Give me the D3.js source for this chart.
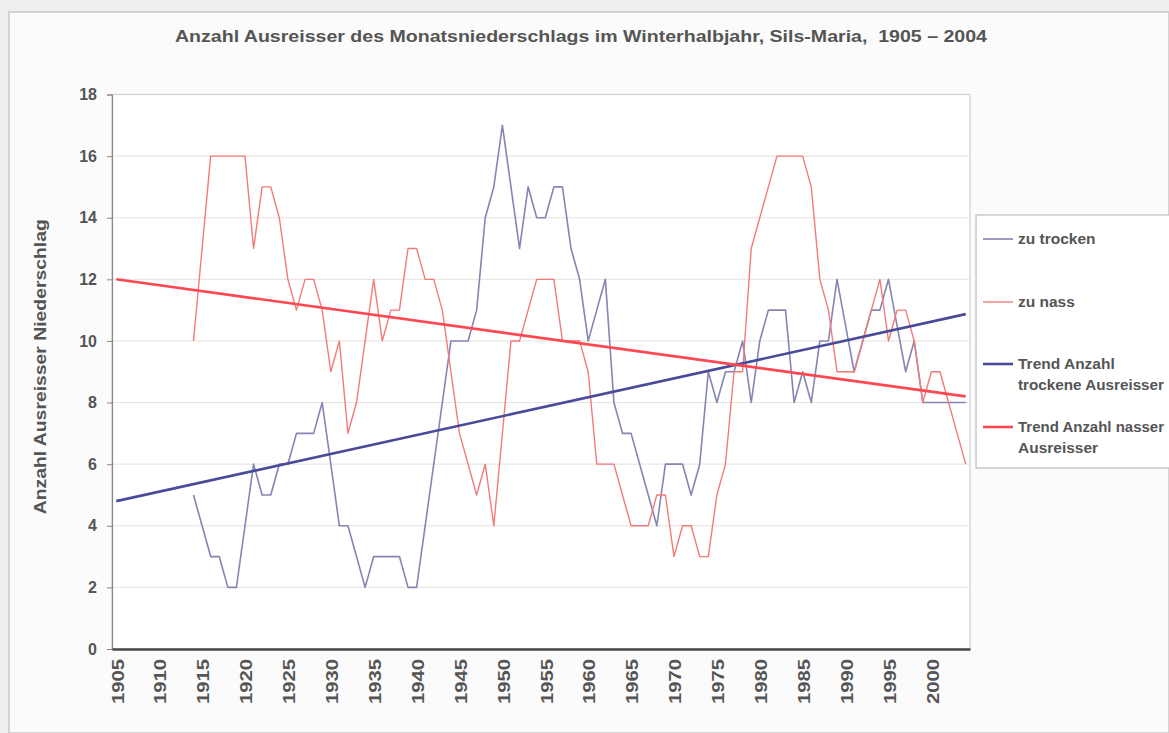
<!DOCTYPE html>
<html>
<head>
<meta charset="utf-8">
<script src="https://cdn.jsdelivr.net/npm/d3@7/dist/d3.min.js"></script>
<style>
  html, body { margin: 0; padding: 0; background: #efefef; overflow: hidden; }
  svg { display: block; }
  text { font-family: "Liberation Sans", Arial, sans-serif; fill: #555; }
</style>
</head>
<body>
<svg id="chart" width="1169" height="733"></svg>
<script>
// ---- data ----
const years = d3.range(1905, 2005);
const firstDataYear = 1914;
const zuTrocken = [
  5, 4, 3, 3, 2, 2, 4, 6, 5, 5,          // 1914-1923
  6, 6, 7, 7, 7, 8, 6, 4, 4, 3,          // 1924-1933
  2, 3, 3, 3, 3, 2, 2, 4, 6, 8,          // 1934-1943
  10, 10, 10, 11, 14, 15, 17, 15, 13, 15,// 1944-1953
  14, 14, 15, 15, 13, 12, 10, 11, 12, 8, // 1954-1963
  7, 7, 6, 5, 4, 6, 6, 6, 5, 6,          // 1964-1973
  9, 8, 9, 9, 10, 8, 10, 11, 11, 11,     // 1974-1983
  8, 9, 8, 10, 10, 12, 10.5, 9, 10, 11,  // 1984-1993
  11, 12, 10.5, 9, 10, 8, 8, 8, 8, 8,    // 1994-2003
  8                                      // 2004
];
const zuNass = [
  10, 13, 16, 16, 16, 16, 16, 13, 15, 15, // 1914-1923
  14, 12, 11, 12, 12, 11, 9, 10, 7, 8,    // 1924-1933
  10, 12, 10, 11, 11, 13, 13, 12, 12, 11, // 1934-1943
  9, 7, 6, 5, 6, 4, 7, 10, 10, 11,        // 1944-1953
  12, 12, 12, 10, 10, 10, 9, 6, 6, 6,     // 1954-1963
  5, 4, 4, 4, 5, 5, 3, 4, 4, 3,           // 1964-1973
  3, 5, 6, 9, 9, 13, 14, 15, 16, 16,      // 1974-1983
  16, 16, 15, 12, 11, 9, 9, 9, 10, 11,    // 1984-1993
  12, 10, 11, 11, 10, 8, 9, 9, 8, 7,      // 1994-2003
  6                                       // 2004
];
const trendYears = [1905, 2004];
const trendTrocken = [4.8, 10.87];
const trendNass = [12.0, 8.2];
const yTicks = [0, 2, 4, 6, 8, 10, 12, 14, 16, 18];
const xTickYears = d3.range(1905, 2005, 5);
const seriesNames = ["zu trocken", "zu nass", "Trend Anzahl|trockene Ausreisser", "Trend Anzahl nasser|Ausreisser"];

// ---- build ----
const svg = d3.select("#chart");
const W = 1169, H = 733;
const plot = { left: 112, right: 970, top: 94.5, bottom: 649 };

const colDry = "#8585b5", colWet = "#f47a7a", colTrendDry = "#4a4a9a", colTrendWet = "#ff4752";

// chart area background
svg.append("rect").attr("x", 9).attr("y", 12).attr("width", W - 9).attr("height", H - 12)
  .attr("fill", "#fbfbfb").attr("stroke", "#c9c9c9").attr("stroke-width", 1.5);

const x = d3.scaleBand().domain(years).range([plot.left, plot.right]).padding(0);
const y = d3.scaleLinear().domain([0, 18]).range([plot.bottom, plot.top]);
const cx = yr => x(yr) + x.bandwidth() / 2;

// plot area
svg.append("rect").attr("x", plot.left).attr("y", plot.top)
  .attr("width", plot.right - plot.left).attr("height", plot.bottom - plot.top)
  .attr("fill", "#ffffff").attr("stroke", "#cfcfcf").attr("stroke-width", 1.2);

// gridlines
svg.append("g").selectAll("line").data(yTicks.filter(d => d > 0 && d < 18)).join("line")
  .attr("x1", plot.left).attr("x2", plot.right)
  .attr("y1", d => y(d)).attr("y2", d => y(d))
  .attr("stroke", "#e6e2dc").attr("stroke-width", 1);

// y axis
const yAxis = d3.axisLeft(y).tickValues(yTicks).tickSize(5).tickPadding(10).tickFormat(d3.format("d"));
const gy = svg.append("g").attr("transform", `translate(${plot.left},0)`).call(yAxis);
gy.select(".domain").attr("stroke", "#888").attr("stroke-width", 1.2);
gy.selectAll(".tick line").attr("stroke", "#888");
gy.selectAll(".tick text").attr("font-size", 16).attr("font-weight", "bold").attr("fill", "#555")
  .attr("font-family", "Liberation Sans, Arial, sans-serif");

// x axis
const xAxis = d3.axisBottom(x).tickValues(xTickYears).tickSize(0).tickPadding(0);
const gx = svg.append("g").attr("transform", `translate(0,${plot.bottom})`).call(xAxis);
gx.select(".domain").attr("stroke", "#4a4a4a").attr("stroke-width", 2.5);
gx.selectAll(".tick text")
  .attr("transform", "rotate(-90)")
  .attr("x", -10).attr("y", 0).attr("dy", "0.36em")
  .attr("text-anchor", "end")
  .attr("font-size", 16).attr("font-weight", "bold").attr("fill", "#555")
  .attr("textLength", 45).attr("lengthAdjust", "spacingAndGlyphs")
  .attr("font-family", "Liberation Sans, Arial, sans-serif");
gx.selectAll(".tick").attr("transform", d => `translate(${cx(d) + 1.5},0)`);

// data lines
const dataYears = years.filter(yr => yr >= firstDataYear);
const line = d3.line().x(d => cx(d[0])).y(d => y(d[1]));
svg.append("path").datum(dataYears.map((yr, i) => [yr, zuTrocken[i]]))
  .attr("d", line).attr("fill", "none").attr("stroke", colDry).attr("stroke-width", 1.6)
  .attr("stroke-linejoin", "round");
svg.append("path").datum(dataYears.map((yr, i) => [yr, zuNass[i]]))
  .attr("d", line).attr("fill", "none").attr("stroke", colWet).attr("stroke-width", 1.4)
  .attr("stroke-linejoin", "round");

// trend lines
svg.append("path").datum(trendYears.map((yr, i) => [yr, trendTrocken[i]]))
  .attr("d", line).attr("fill", "none").attr("stroke", colTrendDry).attr("stroke-width", 2.6);
svg.append("path").datum(trendYears.map((yr, i) => [yr, trendNass[i]]))
  .attr("d", line).attr("fill", "none").attr("stroke", colTrendWet).attr("stroke-width", 2.6);

// title
svg.append("text").attr("x", 175).attr("y", 42).attr("text-anchor", "start")
  .attr("font-size", 17).attr("font-weight", "bold").attr("fill", "#555")
  .attr("textLength", 812).attr("lengthAdjust", "spacingAndGlyphs")
  .style("white-space", "pre")
  .text("Anzahl Ausreisser des Monatsniederschlags im Winterhalbjahr, Sils-Maria,  1905 \u2013 2004");

// y axis title
svg.append("text").attr("transform", `translate(46,${(plot.top + plot.bottom) / 2 - 5}) rotate(-90)`)
  .attr("text-anchor", "middle").attr("font-size", 17).attr("font-weight", "bold").attr("fill", "#555")
  .attr("textLength", 295).attr("lengthAdjust", "spacingAndGlyphs")
  .text("Anzahl Ausreisser Niederschlag");

// legend
const lg = svg.append("g");
lg.append("rect").attr("x", 976).attr("y", 215).attr("width", 200).attr("height", 253)
  .attr("fill", "#ffffff").attr("stroke", "#bdbdbd").attr("stroke-width", 1.2);
const legendItems = [
  { name: seriesNames[0], color: colDry, w: 1.6, y: 239 },
  { name: seriesNames[1], color: colWet, w: 1.4, y: 302 },
  { name: seriesNames[2], color: colTrendDry, w: 2.6, y: 364 },
  { name: seriesNames[3], color: colTrendWet, w: 2.6, y: 427 }
];
const maxLegendText = 1164 - 1018;
legendItems.forEach(it => {
  lg.append("line").attr("x1", 983).attr("x2", 1013).attr("y1", it.y).attr("y2", it.y)
    .attr("stroke", it.color).attr("stroke-width", it.w);
  const parts = it.name.split("|");
  parts.forEach((p, j) => {
    const t = lg.append("text").attr("x", 1018).attr("y", it.y + 5 + j * 21)
      .attr("font-size", 15.5).attr("font-weight", "bold").attr("fill", "#555").text(p);
    const len = t.node().getComputedTextLength();
    if (len > maxLegendText) {
      t.attr("textLength", maxLegendText).attr("lengthAdjust", "spacingAndGlyphs");
    }
  });
});
</script>
</body>
</html>
